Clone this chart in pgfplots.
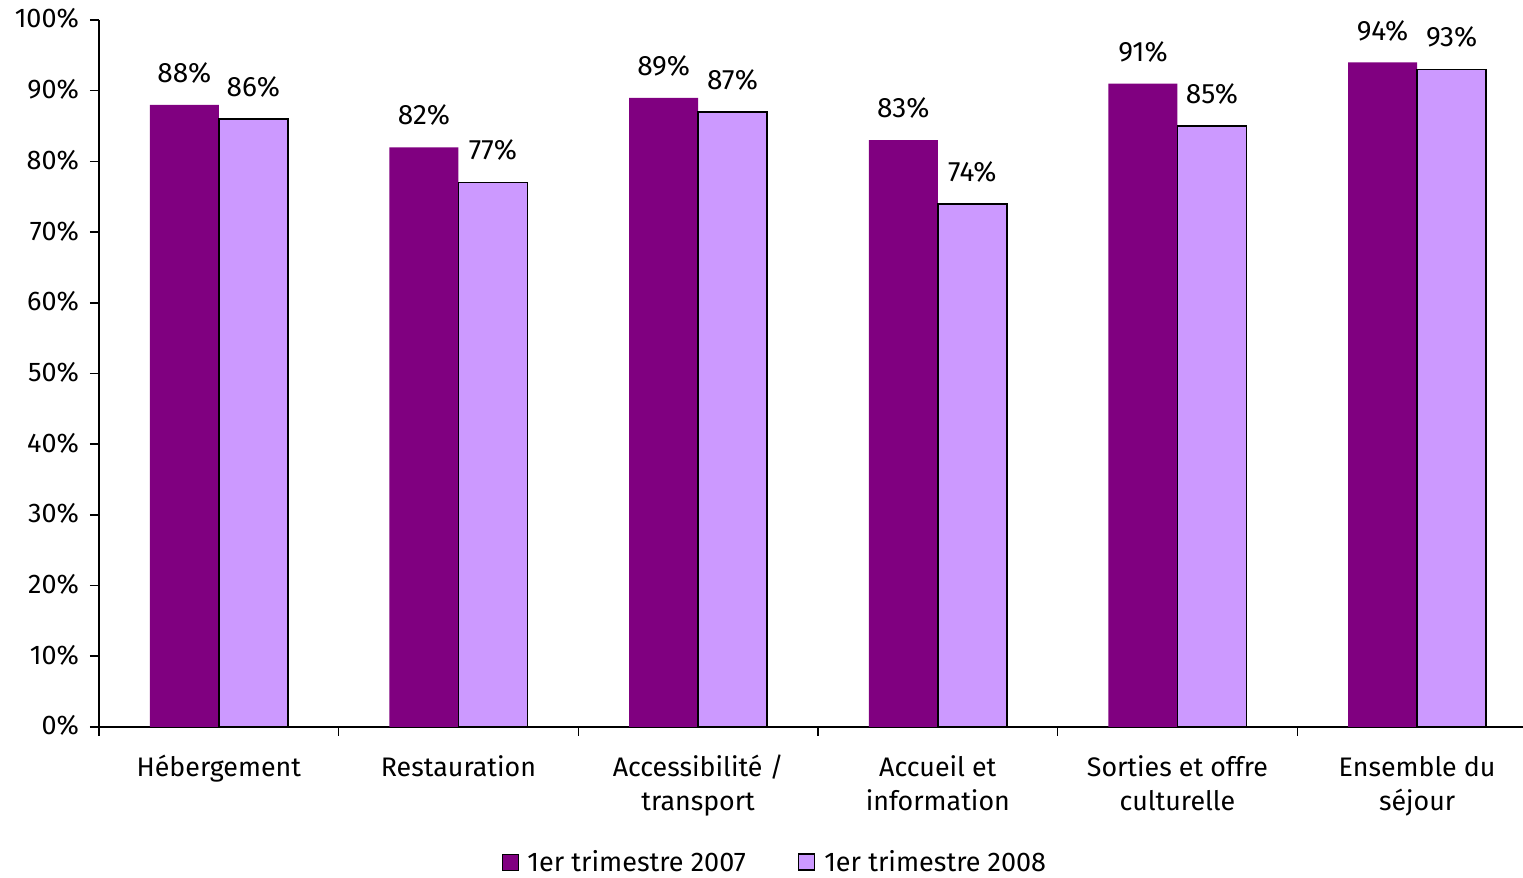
\documentclass[border=0pt]{standalone}
\usepackage{fontspec}
\setmainfont{Fira Sans}
\usepackage{pgfplots}
\pgfplotsset{compat=1.18}
\definecolor{darkp}{RGB}{128,0,128}
\definecolor{lightp}{RGB}{204,153,255}
\begin{document}
\begin{tikzpicture}
\begin{axis}[
  at={(0,0)}, anchor=south west,
  scale only axis,
  width=719pt, height=353.5pt,
  xmin=-0.5, xmax=5.5, ymin=0, ymax=100,
  axis lines=left,
  axis line style={line width=1pt, -},
  ybar=0pt,
  bar width=34.5pt,
  /pgf/number format/assume math mode=true,
  xtick={-0.5,0.5,...,5.5},
  x tick label as interval,
  typeset ticklabels with strut,
  xticklabels={H\'ebergement,Restauration,{Accessibilit\'e /\\transport},{Accueil et\\information},{Sorties et offre\\culturelle},{Ensemble du\\s\'ejour}},
  xticklabel style={align=center, font=\fontsize{13.4}{17}\selectfont, yshift=-5pt},
  ytick={0,10,...,100},
  yticklabels={0\%,10\%,20\%,30\%,40\%,50\%,60\%,70\%,80\%,90\%,100\%},
  yticklabel style={font=\fontsize{13.5}{15}\selectfont, xshift=-2pt, yshift=-1pt},
  tick align=outside,
  major tick length=4.5pt,
  tick style={line width=0.8pt, black},
  nodes near coords={\pgfmathprintnumber{\pgfplotspointmeta}\%},
  every node near coord/.append style={font=\fontsize{14}{16}\selectfont, inner sep=0pt, yshift=10.5pt},
  legend style={at={(0.47,-0.191)}, anchor=center, draw=none, legend columns=-1,
    font=\fontsize{13.5}{15}\selectfont, nodes={inner sep=1pt},
    /tikz/every odd column/.append style={column sep=3.5pt},
    /tikz/every even column/.append style={column sep=25pt}},
  legend image code/.code={\draw[#1] (0pt,-4pt) rectangle (8pt,4pt);},
]
\addplot[fill=darkp, draw=none, bar shift=-17.25pt] coordinates {(0,88) (1,82) (2,89) (3,83) (4,91) (5,94)};
\addplot[fill=lightp, draw=black, line width=0.75pt, bar shift=17.25pt] coordinates {(0,86) (1,77) (2,87) (3,74) (4,85) (5,93)};
\legend{1er trimestre 2007,1er trimestre 2008}
\end{axis}
\pgfresetboundingbox
\path (-49.5pt,-75.5pt) rectangle (712pt,363.5pt);
\end{tikzpicture}
\end{document}
